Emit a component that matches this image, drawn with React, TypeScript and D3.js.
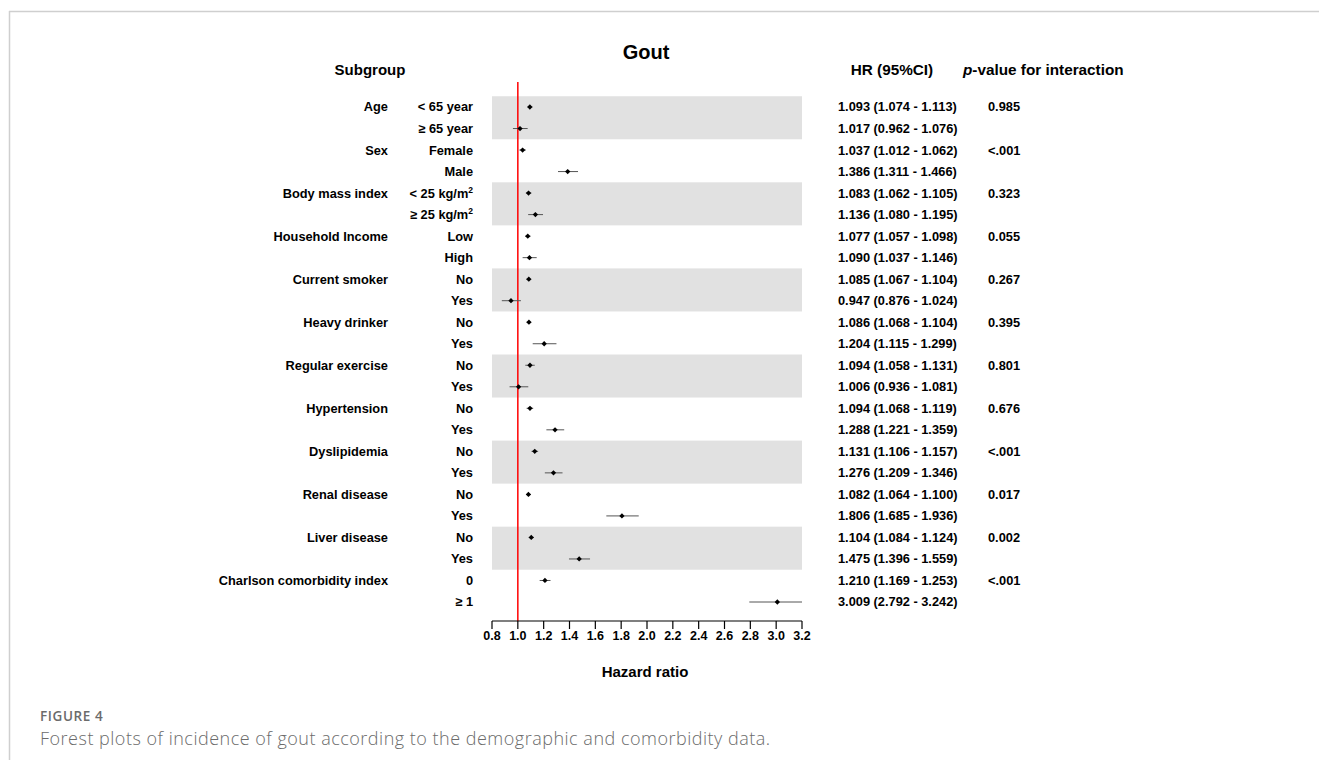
import * as d3 from "d3";

const groupLabels = [
  "Age", "", "Sex", "", "Body mass index", "", "Household Income", "",
  "Current smoker", "", "Heavy drinker", "", "Regular exercise", "",
  "Hypertension", "", "Dyslipidemia", "", "Renal disease", "",
  "Liver disease", "", "Charlson comorbidity index", "",
];
const subLabels = [
  "< 65 year", "≥ 65 year", "Female", "Male", "< 25 kg/m2", "≥ 25 kg/m2",
  "Low", "High", "No", "Yes", "No", "Yes", "No", "Yes", "No", "Yes",
  "No", "Yes", "No", "Yes", "No", "Yes", "0", "≥ 1",
];
const hr = [
  1.093, 1.017, 1.037, 1.386, 1.083, 1.136, 1.077, 1.09, 1.085, 0.947, 1.086, 1.204,
  1.094, 1.006, 1.094, 1.288, 1.131, 1.276, 1.082, 1.806, 1.104, 1.475, 1.21, 3.009,
];
const lower = [
  1.074, 0.962, 1.012, 1.311, 1.062, 1.08, 1.057, 1.037, 1.067, 0.876, 1.068, 1.115,
  1.058, 0.936, 1.068, 1.221, 1.106, 1.209, 1.064, 1.685, 1.084, 1.396, 1.169, 2.792,
];
const upper = [
  1.113, 1.076, 1.062, 1.466, 1.105, 1.195, 1.098, 1.146, 1.104, 1.024, 1.104, 1.299,
  1.131, 1.081, 1.119, 1.359, 1.157, 1.346, 1.1, 1.936, 1.124, 1.559, 1.253, 3.242,
];
const pValues = [
  "0.985", "", "<.001", "", "0.323", "", "0.055", "", "0.267", "", "0.395", "",
  "0.801", "", "0.676", "", "<.001", "", "0.017", "", "0.002", "", "<.001", "",
];
const shadedGroups = [0, 2, 4, 6, 8, 10]; // pair index of gray bands
const xTicks = [0.8, 1.0, 1.2, 1.4, 1.6, 1.8, 2.0, 2.2, 2.4, 2.6, 2.8, 3.0, 3.2];

const W = 1319;
const H = 760;
const font = "Liberation Sans, Arial, sans-serif";
const captionFont = "Open Sans, Lato, sans-serif";

export default function App() {
  const x = d3.scaleLinear().domain([0.8, 3.2]).range([492, 802]);
  const y = d3.scaleLinear().domain([0, hr.length - 1]).range([107, 602]);
  const step = y(1) - y(0);
  const axisY = 621;
  // square turned 45deg, looks like the small marker in the plot
  const marker = d3.symbol(d3.symbolSquare, 14)() as string;
  const fmt = (v: number) => v.toFixed(3);
  const clamp = (v: number) => Math.max(0.8, Math.min(3.2, v));

  const renderSub = (s: string) => {
    if (s.endsWith("kg/m2")) {
      return (
        <>
          {s.slice(0, -1)}
          <tspan dy={-5} fontSize={8.5}>2</tspan>
        </>
      );
    }
    return s;
  };

  return (
    <svg
      width={W}
      height={H}
      style={{ position: "absolute", left: 0, top: 0, background: "#fff" }}
      fontFamily={font}
    >
      {/* frame */}
      <line x1={9} x2={W} y1={11.5} y2={11.5} stroke="#cfcfcf" strokeWidth={1.5} />
      <line x1={9.5} x2={9.5} y1={11} y2={H} stroke="#cfcfcf" strokeWidth={1.5} />

      {/* bands */}
      {shadedGroups.map((g) => {
        const i = g * 2;
        return (
          <rect
            key={g}
            x={x(0.8)}
            width={x(3.2) - x(0.8)}
            y={y(i) - step / 2}
            height={step * 2}
            fill="#e1e1e1"
          />
        );
      })}

      {/* headers */}
      <text x={646} y={59} textAnchor="middle" fontSize={20} fontWeight="bold">Gout</text>
      <text x={370} y={75} textAnchor="middle" fontSize={15} fontWeight="bold">Subgroup</text>
      <text x={892} y={75} textAnchor="middle" fontSize={15.3} fontWeight="bold">HR (95%CI)</text>
      <text x={963} y={75} fontSize={15.3} fontWeight="bold">
        <tspan fontStyle="italic">p</tspan>-value for interaction
      </text>

      {/* red reference line */}
      <line x1={x(1)} x2={x(1)} y1={82} y2={axisY} stroke="#ff0000" strokeWidth={1.5} />

      {/* rows */}
      {hr.map((v, i) => (
        <g key={i} fontSize={12.8} fontWeight="bold">
          <text x={388} y={y(i)} dy="0.35em" textAnchor="end">{groupLabels[i]}</text>
          <text x={473} y={y(i)} dy="0.35em" textAnchor="end">{renderSub(subLabels[i])}</text>
          <line
            x1={x(clamp(lower[i]))}
            x2={x(clamp(upper[i]))}
            y1={y(i)}
            y2={y(i)}
            stroke="#555"
            strokeWidth={1}
          />
          <path d={marker} transform={`translate(${x(v)},${y(i)}) rotate(45)`} fill="#000" />
          <text x={838} y={y(i)} dy="0.35em" fontSize={12.8}>
            {`${fmt(v)} (${fmt(lower[i])} - ${fmt(upper[i])})`}
          </text>
          <text x={988} y={y(i)} dy="0.35em" fontSize={12.8}>{pValues[i]}</text>
        </g>
      ))}

      {/* x axis */}
      <line x1={x(0.8)} x2={x(3.2)} y1={axisY} y2={axisY} stroke="#000" strokeWidth={1.2} />
      {xTicks.map((t) => (
        <g key={t}>
          <line x1={x(t)} x2={x(t)} y1={axisY} y2={axisY + 8} stroke="#000" strokeWidth={1.2} />
          <text x={x(t)} y={640} textAnchor="middle" fontSize={12.5} fontWeight="bold">
            {t.toFixed(1)}
          </text>
        </g>
      ))}
      <text x={645} y={677} textAnchor="middle" fontSize={15} fontWeight="bold">Hazard ratio</text>

      {/* caption */}
      <text x={40} y={721} fontSize={13.5} letterSpacing={0.6} fill="#6b6b6b" fontFamily={captionFont} fontWeight={600}>
        FIGURE 4
      </text>
      <text x={40} y={745} fontSize={18} letterSpacing={0.5} fill="#6b6b6b" fontFamily={captionFont} fontWeight={300}>
        Forest plots of incidence of gout according to the demographic and comorbidity data.
      </text>
    </svg>
  );
}
